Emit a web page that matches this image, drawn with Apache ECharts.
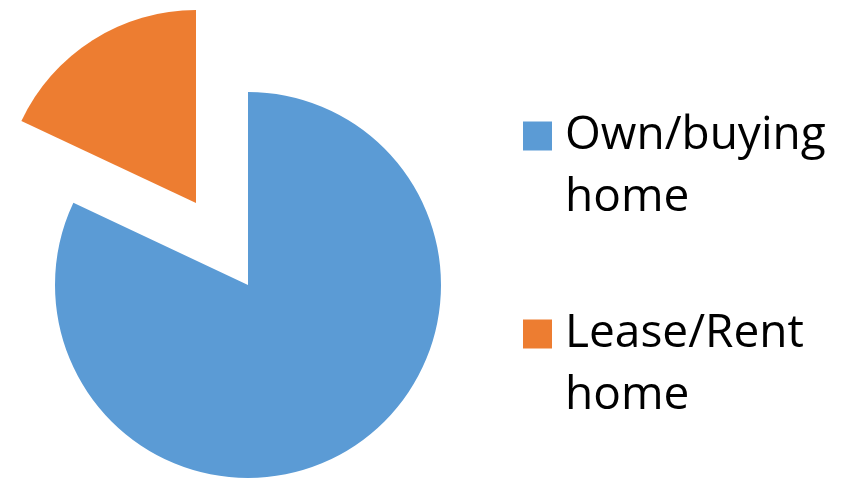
<!DOCTYPE html>
<html>
<head>
<meta charset="utf-8">
<script src="https://cdn.jsdelivr.net/npm/echarts@6/dist/echarts.min.js"></script>
<style>
html,body{margin:0;padding:0;background:#fff;}
#chart{width:852px;height:479px;}
</style>
</head>
<body>
<div id="chart"></div>
<script>
const categories = ['Own/buying home', 'Lease/Rent home'];
const legendLabels = ['Own/buying\nhome', 'Lease/Rent\nhome'];
const values = [82, 18];
const colors = ['#5B9BD5', '#ED7D31'];
const exploded = [false, true];

const chart = echarts.init(document.getElementById('chart'), null, {renderer: 'canvas'});

const legendTops = [38, 236];
const legends = categories.map((c, i) => ({
  data: [c],
  orient: 'vertical',
  left: 518,
  top: legendTops[i],
  icon: 'rect',
  itemWidth: 29,
  itemHeight: 29,
  selectedMode: false,
  formatter: () => '\n' + legendLabels[i],
  textStyle: {
    fontFamily: 'Open Sans',
    fontSize: 46,
    color: '#000',
    lineHeight: 62,
    padding: [0, 0, 0, 8]
  }
}));

chart.setOption({
  animation: false,
  color: colors,
  legend: legends,
  series: [{
    type: 'pie',
    center: [248, 285],
    radius: [0, 193],
    startAngle: 90,
    clockwise: true,
    selectedMode: 'multiple',
    selectedOffset: 97,
    label: {show: false},
    labelLine: {show: false},
    emphasis: {disabled: true},
    itemStyle: {borderWidth: 0},
    data: categories.map((c, i) => ({
      name: c,
      value: values[i],
      selected: exploded[i],
      itemStyle: {color: colors[i]}
    }))
  }]
});
</script>
</body>
</html>
